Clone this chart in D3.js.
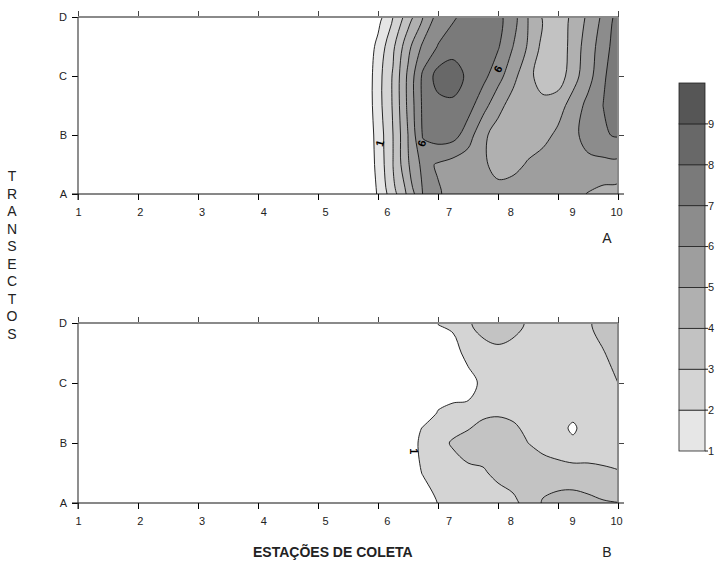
<!DOCTYPE html>
<html>
<head>
<meta charset="utf-8">
<script src="https://cdn.jsdelivr.net/npm/d3@7"></script>
<style>
body { margin: 0; background: #fff; }
text { font-family: "Liberation Sans", Arial, sans-serif; }
</style>
</head>
<body>
<script>
// axis categories
var stations = [1, 2, 3, 4, 5, 6, 7, 8, 9, 10]
var transects = ["A", "B", "C", "D"]

// legend classes (top panel uses the same)
var levels = [1, 2, 3, 4, 5, 6, 7, 8, 9]
var levelColors = ["#e6e6e6", "#d4d4d4", "#c2c2c2", "#b0b0b0", "#9e9e9e", "#8c8c8c", "#7a7a7a", "#686868", "#565656"]

// panel A: values, rows = transect position (0 = A ... 3 = D)
var colsA = [5.75, 6, 6.25, 6.5, 6.75, 7, 7.25, 7.5, 7.75, 8, 8.25, 8.5, 8.75, 9, 9.25, 9.5, 9.75, 10]
var rowsA = [0, 0.5, 1, 1.5, 2, 2.5, 3]
var gridA = [
    [0, 1.1, 2.6, 4.2, 6.05, 6.1, 5.7, 5.5, 5.4, 5.4, 5.5, 5.6, 5.6, 5.5, 5.3, 4.95, 4.7, 4.6],
    [0, 1.3, 3.0, 4.9, 6.3, 5.9, 5.6, 5.4, 5.2, 4.6, 4.7, 5.1, 5.4, 5.6, 5.8, 5.8, 5.7, 5.7],
    [0, 1.4, 3.0, 5.0, 7.1, 7.5, 7.4, 6.5, 5.2, 4.6, 4.4, 4.5, 4.7, 5.2, 5.8, 6.3, 6.9, 7.1],
    [0, 1.6, 3.1, 5.2, 7.2, 7.7, 7.8, 7.4, 6.4, 5.3, 4.6, 4.3, 4.3, 4.6, 5.4, 6.3, 7.0, 7.6],
    [0, 1.6, 3.1, 5.2, 7.2, 8.4, 8.5, 7.8, 7.3, 6.4, 5.3, 4.3, 3.5, 3.4, 4.6, 5.6, 6.8, 7.8],
    [0, 1.3, 2.8, 4.7, 6.2, 7.05, 7.6, 7.8, 7.7, 7.1, 6.0, 4.9, 3.7, 3.3, 4.4, 5.5, 6.5, 7.6],
    [0, 0.6, 2.0, 3.5, 5.0, 6.4, 6.85, 7.4, 7.5, 7.3, 6.4, 5.0, 3.9, 3.5, 4.2, 5.2, 6.2, 7.4]
]

// panel B
var colsB = [6.5, 6.75, 7, 7.25, 7.5, 7.75, 8, 8.25, 8.5, 8.75, 9, 9.25, 9.5, 9.75, 10]
var rowsB = [0, 0.5, 1, 1.25, 1.5, 2, 2.5, 3]
var gridB = [
    [0, 0, 1.05, 1.4, 1.5, 1.5, 1.6, 1.8, 2.3, 3.1, 3.4, 3.5, 3.3, 3.1, 3.02],
    [0, 1.1, 1.5, 1.6, 1.85, 1.9, 2.2, 2.4, 2.5, 2.5, 2.4, 2.35, 2.3, 2.15, 2.05],
    [0, 1.5, 1.7, 2.1, 2.3, 2.4, 2.45, 2.35, 2.0, 1.7, 1.5, 1.3, 1.4, 1.55, 1.6],
    [0, 1.1, 1.5, 1.75, 1.95, 2.2, 2.3, 2.15, 1.8, 1.6, 1.5, 0.75, 1.7, 1.55, 1.6],
    [0, 0, 1.1, 1.5, 1.7, 1.85, 1.9, 1.8, 1.6, 1.5, 1.4, 1.4, 1.5, 1.55, 1.7],
    [0, 0, 0, 0, 0, 1.6, 1.6, 1.55, 1.5, 1.5, 1.5, 1.5, 1.6, 1.8, 2.0],
    [0, 0, 0, 0, 1.8, 1.7, 1.8, 1.7, 1.6, 1.5, 1.5, 1.6, 1.75, 1.95, 2.3],
    [0, 0, 1.05, 1.5, 1.9, 2.3, 2.5, 2.3, 1.9, 1.6, 1.5, 1.6, 1.9, 2.3, 2.6]
]
var levelsB = [1, 2, 3]
var colorsB = ["#d4d4d4", "#c3c3c3", "#b6b6b6"]

// contour labels: text, station, transect, angle
var labelsA = [["1", 6.03, 0.86, -75], ["6", 6.73, 0.86, -75], ["6", 8.0, 2.12, -62]]
var labelsB = [["1", 6.6, 0.86, 90]]

var svg = d3.select("body").append("svg").attr("width", 716).attr("height", 562)
var x = d3.scaleLinear().domain([1, 10]).range([78, 618])

// tick labels in the original sit a bit to the right of their ticks
var tickShift = function (s) { return s < 10 ? (s - 1) * 1.75 : -2 }

var drawPanel = function (p)
{
    var y = d3.scaleLinear().domain([0, 3]).range([p.bottom, p.top])
    var nx = p.cols.length, ny = p.rows.length
    var colScale = d3.scaleLinear().domain([0, nx - 1]).range([p.cols[0], p.cols[nx - 1]])
    var rowScale = d3.scaleLinear().domain(d3.range(ny)).range(p.rows)

    svg.append("clipPath").attr("id", "clip" + p.name)
        .append("rect")
        .attr("x", x(1)).attr("y", p.top)
        .attr("width", x(10) - x(1)).attr("height", p.bottom - p.top)

    var contours = d3.contours().size([nx, ny]).thresholds(p.levels)(d3.merge(p.grid))

    var line = d3.line()
        .x(function (c) { return x(colScale(c[0] - 0.5)) })
        .y(function (c) { return y(rowScale(c[1] - 0.5)) })
        .curve(d3.curveCatmullRomClosed.alpha(0.5))

    var pathOf = function (c)
    {
        return c.coordinates.map(function (poly)
        {
            return poly.map(function (ring) { return line(ring.slice(0, -1)) }).join("")
        }).join("")
    }

    var g = svg.append("g").attr("clip-path", "url(#clip" + p.name + ")")
    g.selectAll("path.fill")
        .data(contours)
        .enter()
        .append("path")
        .attr("class", "fill")
        .attr("d", pathOf)
        .attr("fill", function (c, i) { return p.colors[i] })
    g.selectAll("path.line")
        .data(contours)
        .enter()
        .append("path")
        .attr("class", "line")
        .attr("d", pathOf)
        .attr("fill", "none")
        .attr("stroke", "#111")
        .attr("stroke-width", 0.9)

    g.selectAll("text.lab")
        .data(p.labels)
        .enter()
        .append("text")
        .attr("class", "lab")
        .attr("transform", function (d) { return "translate(" + x(d[1]) + "," + y(d[2]) + ") rotate(" + d[3] + ")" })
        .attr("text-anchor", "middle")
        .attr("dy", "0.35em")
        .attr("font-size", 11)
        .attr("font-weight", "bold")
        .text(function (d) { return d[0] })

    // station axis below
    var gx = svg.append("g")
        .attr("transform", "translate(0," + p.bottom + ")")
        .call(d3.axisBottom(x).tickValues(stations).tickSize(6).tickSizeOuter(0).tickPadding(8).tickFormat(d3.format("d")))
    gx.select(".domain").remove()
    gx.attr("font-size", 11).attr("font-family", "Liberation Sans, Arial, sans-serif")
    gx.selectAll("text").attr("x", function (d) { return tickShift(d) }).attr("fill", "#222")

    // station ticks on top
    var gt = svg.append("g")
        .attr("transform", "translate(0," + p.top + ")")
        .call(d3.axisTop(x).tickValues(stations).tickSize(6).tickSizeOuter(0).tickFormat(""))
    gt.select(".domain").remove()
    gt.selectAll("line").attr("stroke", "#444")

    // transect axis
    var gy = svg.append("g")
        .attr("transform", "translate(" + x(1) + ",0)")
        .call(d3.axisLeft(y).tickValues([0, 1, 2, 3]).tickSize(6).tickSizeOuter(0).tickPadding(5)
            .tickFormat(function (i) { return transects[i] }))
    gy.select(".domain").remove()
    gy.attr("font-size", 11).attr("font-family", "Liberation Sans, Arial, sans-serif")
    gy.selectAll("text").attr("fill", "#222")

    var gr = svg.append("g")
        .attr("transform", "translate(" + x(10) + ",0)")
        .call(d3.axisRight(y).tickValues([1, 2]).tickSize(6).tickSizeOuter(0).tickFormat(""))
    gr.select(".domain").remove()
    gr.selectAll("line").attr("stroke", "#444")

    // frame
    svg.append("line").attr("x1", x(1)).attr("x2", x(10)).attr("y1", p.top).attr("y2", p.top)
        .attr("stroke", "#8a8a8a").attr("stroke-width", 2)
    svg.append("line").attr("x1", x(10)).attr("x2", x(10)).attr("y1", p.top).attr("y2", p.bottom)
        .attr("stroke", "#8a8a8a").attr("stroke-width", 2)
    svg.append("line").attr("x1", x(1)).attr("x2", x(1)).attr("y1", p.top).attr("y2", p.bottom + 6)
        .attr("stroke", "#444").attr("stroke-width", 1.2)
    svg.append("line").attr("x1", x(1) - 6).attr("x2", x(10) + 6).attr("y1", p.bottom).attr("y2", p.bottom)
        .attr("stroke", "#111").attr("stroke-width", 1)

    svg.append("text")
        .attr("x", x(10) - 11).attr("y", p.letterY)
        .attr("text-anchor", "middle")
        .attr("font-size", 14)
        .attr("fill", "#222")
        .text(p.name)
}

drawPanel({name: "A", top: 17, bottom: 194, cols: colsA, rows: rowsA, grid: gridA,
    levels: levels, colors: levelColors, labels: labelsA, letterY: 243})
drawPanel({name: "B", top: 323, bottom: 503, cols: colsB, rows: rowsB, grid: gridB,
    levels: levelsB, colors: colorsB, labels: labelsB, letterY: 557})

// y title, one letter under the other
svg.append("g").selectAll("text")
    .data("TRANSECTOS".split(""))
    .enter()
    .append("text")
    .attr("x", 12)
    .attr("y", function (d, i) { return 181 + i * 17.5 })
    .attr("text-anchor", "middle")
    .attr("font-size", 14)
    .attr("fill", "#222")
    .text(function (d) { return d })

svg.append("text")
    .attr("x", 253).attr("y", 557)
    .attr("font-size", 14)
    .attr("font-weight", "bold")
    .attr("fill", "#222")
    .text("ESTAÇÕES DE COLETA")

// legend
var ly = d3.scaleLinear().domain([1, 10]).range([451, 83])
var legend = svg.append("g")
legend.selectAll("rect")
    .data(levels)
    .enter()
    .append("rect")
    .attr("x", 679)
    .attr("width", 26)
    .attr("y", function (l) { return ly(l + 1) })
    .attr("height", function (l) { return ly(l) - ly(l + 1) })
    .attr("fill", function (l, i) { return levelColors[i] })
    .attr("stroke", "#222")
    .attr("stroke-width", 0.8)
legend.selectAll("line")
    .data(levels)
    .enter()
    .append("line")
    .attr("x1", 705).attr("x2", 708)
    .attr("y1", function (l) { return ly(l) })
    .attr("y2", function (l) { return ly(l) })
    .attr("stroke", "#222")
legend.selectAll("text")
    .data(levels)
    .enter()
    .append("text")
    .attr("x", 708)
    .attr("y", function (l) { return ly(l) })
    .attr("dy", "0.35em")
    .attr("font-size", 11)
    .attr("fill", "#222")
    .text(function (l) { return l })
</script>
</body>
</html>
